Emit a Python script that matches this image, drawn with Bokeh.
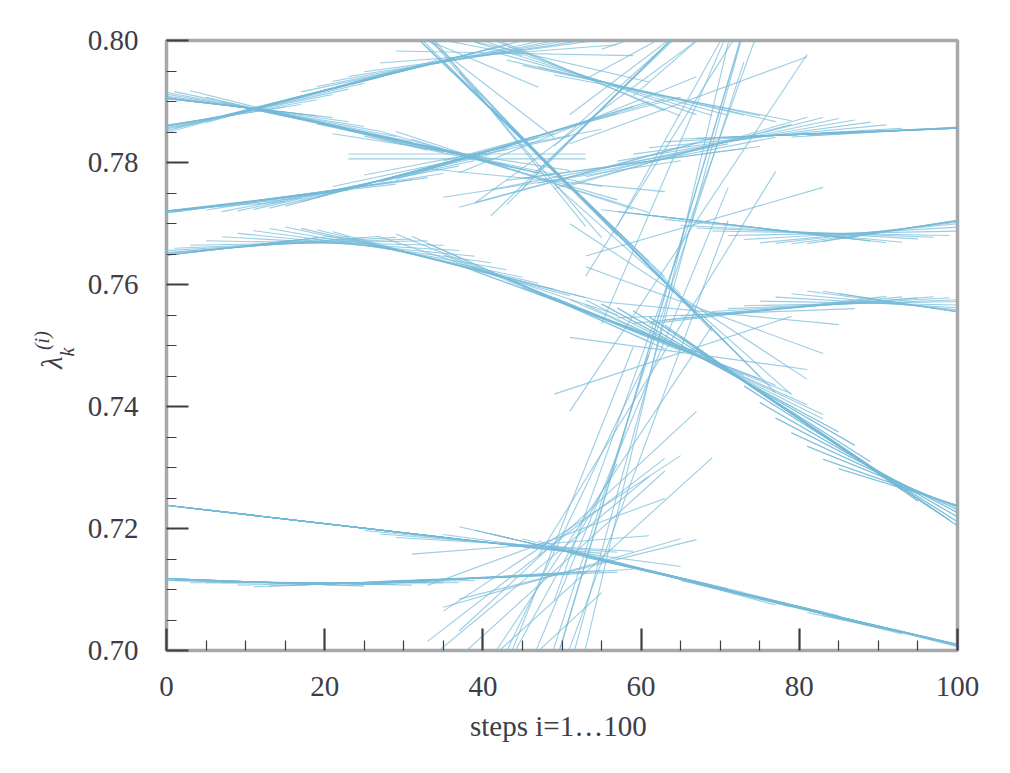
import numpy as np
from bokeh.plotting import figure
from bokeh.layouts import row
from bokeh.models import FixedTicker
from bokeh.core.properties import value
from bokeh.embed import file_html
from bokeh.resources import INLINE

# ---------------- data ----------------
steps = list(range(0, 101, 2))          # sampled steps i

# eigenvalue tracks lambda_k at the sampled steps
lam_1 = [.7861, .7865, .7869, .7874, .7879, .7885, .7891, .7898, .7905, .7911,
         .7918, .7925, .7931, .7938, .7944, .7951, .7957, .7962, .7967, .7971,
         .7975, .7978, .7979, .7977, .7967, .7955, .7946, .7937, .7930, .7923,
         .7918, .7912, .7906, .7902, .7925, .7985, .8045, .8078, .8090, .8095,
         .8098, .8100, .8101, .8102, .8103, .8104, .8105, .8105, .8106, .8106,
         .8107]
lam_2 = [.7905, .7902, .7899, .7896, .7893, .7889, .7885, .7880, .7875, .7869,
         .7862, .7857, .7851, .7846, .7840, .7834, .7828, .7822, .7817, .7814,
         .7817, .7824, .7832, .7840, .7848, .7855, .7862, .7876, .7900, .7926,
         .7952, .7978, .8003, .8025, .8042, .8053, .8060, .8065, .8068, .8070,
         .8072, .8073, .8074, .8075, .8076, .8077, .8078, .8079, .8080, .8081,
         .8082]
lam_3 = [.7721, .7723, .7726, .7729, .7732, .7735, .7739, .7742, .7745, .7749,
         .7752, .7757, .7762, .7768, .7774, .7781, .7788, .7795, .7802, .7806,
         .7802, .7795, .7787, .7778, .7771, .7773, .7779, .7787, .7793, .7797,
         .7800, .7804, .7810, .7818, .7825, .7831, .7836, .7840, .7843, .7845,
         .7846, .7847, .7848, .7849, .7850, .7851, .7852, .7853, .7855, .7856,
         .7857]
lam_4 = [.8030, .8029, .8028, .8027, .8026, .8025, .8024, .8023, .8022, .8021,
         .8020, .8019, .8018, .8017, .8016, .8013, .8006, .7991, .7966, .7935,
         .7902, .7875, .7850, .7825, .7800, .7775, .7749, .7722, .7696, .7670,
         .7644, .7618, .7592, .7572, .7558, .7553, .7553, .7555, .7558, .7561,
         .7563, .7565, .7567, .7568, .7569, .7569, .7568, .7566, .7563, .7559,
         .7555]
lam_5 = [.7648, .7651, .7654, .7657, .7660, .7662, .7664, .7666, .7667, .7668,
         .7668, .7667, .7665, .7662, .7658, .7653, .7647, .7641, .7634, .7627,
         .7621, .7614, .7604, .7593, .7581, .7570, .7560, .7551, .7541, .7530,
         .7520, .7510, .7500, .7489, .7477, .7463, .7449, .7433, .7416, .7398,
         .7380, .7362, .7345, .7327, .7310, .7294, .7280, .7267, .7256, .7246,
         .7238]
lam_6 = [.7238, .7235, .7232, .7229, .7226, .7223, .7220, .7217, .7214, .7211,
         .7208, .7205, .7202, .7199, .7196, .7193, .7190, .7187, .7184, .7181,
         .7178, .7176, .7174, .7173, .7178, .7192, .7212, .7240, .7290, .7365,
         .7450, .7540, .7625, .7685, .7703, .7700, .7697, .7694, .7691, .7688,
         .7686, .7685, .7684, .7684, .7685, .7687, .7690, .7693, .7697, .7701,
         .7705]
lam_7 = [.7118, .7117, .7116, .7115, .7114, .7113, .7112, .7112, .7111, .7111,
         .7111, .7111, .7111, .7112, .7113, .7114, .7115, .7116, .7117, .7118,
         .7120, .7121, .7122, .7124, .7165, .7164, .7158, .7152, .7146, .7140,
         .7134, .7127, .7120, .7114, .7108, .7102, .7096, .7089, .7083, .7076,
         .7070, .7064, .7058, .7052, .7046, .7039, .7033, .7027, .7021, .7016,
         .7010]
lam_8 = [.6880, .6881, .6882, .6883, .6884, .6885, .6886, .6887, .6888, .6889,
         .6890, .6891, .6892, .6893, .6894, .6895, .6896, .6897, .6898, .6902,
         .6915, .6950, .7010, .7080, .7118, .7127, .7133, .7140, .7180, .7280,
         .7400, .7470, .7484, .7487, .7477, .7463, .7449, .7433, .7416, .7398,
         .7380, .7362, .7345, .7327, .7310, .7294, .7280, .7267, .7256, .7246,
         .7238]

x_ticks = [0, 20, 40, 60, 80, 100]
x_tick_labels = ["0", "20", "40", "60", "80", "100"]
x_minor = [5, 10, 15, 25, 30, 35, 45, 50, 55, 65, 70, 75, 85, 90, 95]
y_ticks = [0.70, 0.72, 0.74, 0.76, 0.78, 0.80]
y_tick_labels = ["0.70", "0.72", "0.74", "0.76", "0.78", "0.80"]
y_minor = [0.705, 0.71, 0.715, 0.725, 0.73, 0.735, 0.745, 0.75, 0.755,
           0.765, 0.77, 0.775, 0.785, 0.79, 0.795]
x_label = "steps  i=1\u2026100"
y_label_parts = ["\u03bb", "k", "(i)"]   # lambda, subscript, superscript

# ---------------- styling ----------------
FONT = "Liberation Serif"
TXT = "#3d3d48"
LINE = "#74bad8"
HALF = 15          # half width (in steps) of every tangent segment
H = 758            # figure height
LAB_W = 80         # width of the strip holding the y label
Q_SCALE = 688.0    # effective drawing height observed for the label strip

tracks = [lam_1, lam_2, lam_3, lam_4, lam_5, lam_6, lam_7, lam_8]
s = np.array(steps, dtype=float)
x0, y0, x1, y1 = [], [], [], []
for lam in tracks:
    y = np.array(lam, dtype=float)
    m = np.gradient(y, s)
    x0 += list(s - HALF)
    y0 += list(y - HALF * m)
    x1 += list(s + HALF)
    y1 += list(y + HALF * m)

p = figure(frame_width=791, frame_height=610,
           min_border_left=166 - LAB_W, min_border_top=40,
           min_border_right=40, min_border_bottom=H - 650,
           x_range=(0, 100), y_range=(0.70, 0.80),
           output_backend="svg", toolbar_location=None)
p.background_fill_color = "white"
p.border_fill_color = "white"
p.outline_line_color = "#a8a8a8"
p.outline_line_width = 3.5
p.xgrid.visible = False
p.ygrid.visible = False

p.segment(x0=x0, y0=y0, x1=x1, y1=y1, line_color=LINE,
          line_alpha=0.72, line_width=1.1)

p.xaxis.ticker = FixedTicker(ticks=x_ticks, minor_ticks=x_minor)
p.yaxis.ticker = FixedTicker(ticks=y_ticks, minor_ticks=y_minor)
p.xaxis.major_label_overrides = {t: l for t, l in zip(x_ticks, x_tick_labels)}
p.yaxis.major_label_overrides = {t: l for t, l in zip(y_ticks, y_tick_labels)}

for ax in (p.xaxis[0], p.yaxis[0]):
    ax.axis_line_color = None
    ax.major_tick_in = 22
    ax.major_tick_out = 0
    ax.minor_tick_in = 10
    ax.minor_tick_out = 0
    ax.major_tick_line_width = 2.2
    ax.minor_tick_line_width = 1.2
    ax.major_tick_line_color = TXT
    ax.minor_tick_line_color = TXT
    ax.major_label_text_font = FONT
    ax.major_label_text_font_size = "29px"
    ax.major_label_text_color = TXT

p.yaxis.major_label_standoff = 28
p.xaxis.major_label_standoff = 26
p.xaxis.axis_label = x_label
p.xaxis.axis_label_text_font = FONT
p.xaxis.axis_label_text_font_size = "29px"
p.xaxis.axis_label_text_font_style = "normal"
p.xaxis.axis_label_text_color = TXT
p.xaxis.axis_label_standoff = 11

# strip on the left that holds the rotated y label  lambda_k^(i)
q = figure(width=LAB_W, height=H, x_range=(0, LAB_W), y_range=(0, H),
           min_border=0, min_border_left=0, min_border_right=0,
           min_border_top=0, min_border_bottom=0,
           x_axis_location=None, y_axis_location=None,
           output_backend="svg", toolbar_location=None)
q.grid.visible = False
q.outline_line_color = None
q.background_fill_color = "white"
q.border_fill_color = "white"
lab_px = [51.5, 66.5, 41.5]            # wanted centres (pixels) of the pieces
lab_py = [363.5, 351.5, 338.5]
lab_size = ["29px", "20px", "20px"]
for t, xx, py, sz in zip(y_label_parts, lab_px, lab_py, lab_size):
    yy = H - py * H / Q_SCALE
    q.text(x=[xx], y=[yy], text=[t], angle=np.pi / 2,
           text_font=value(FONT), text_font_size=value(sz),
           text_font_style="italic", text_color=TXT,
           text_align="center", text_baseline="middle")

layout = row(q, p, spacing=0)
open("out.html", "w").write(file_html(layout, INLINE))
